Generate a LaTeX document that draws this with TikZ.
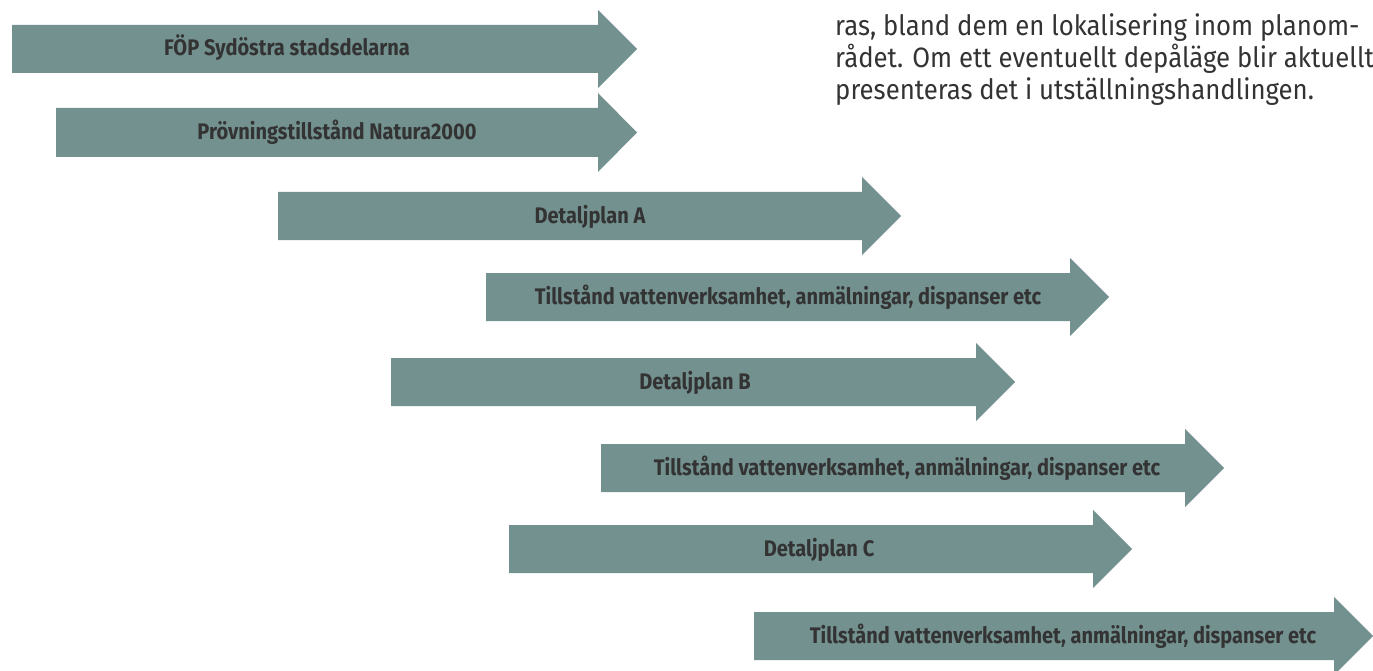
\documentclass[tikz,border=0pt]{standalone}
\usepackage{fontspec}
\setmainfont{Fira Sans}
\newfontfamily\bodyfont[FakeStretch=0.92]{Fira Sans}
\newfontfamily\labfont[FakeStretch=0.89]{Fira Sans Bold}
\definecolor{arrowfill}{RGB}{115,145,143}
\definecolor{txt}{RGB}{51,51,51}
\tikzset{
  arrowbody/.style={fill=arrowfill, draw=none},
  arrowlabel/.style={font=\labfont\fontsize{22.5}{24}\selectfont, text=txt, inner sep=0pt, anchor=base},
  bodytext/.style={font=\bodyfont\fontsize{28}{32}\selectfont, text=txt, inner sep=0pt, anchor=base west, align=left}
}
\begin{document}
\begin{tikzpicture}[x=1pt,y=-1pt]
\useasboundingbox (0,0) rectangle (1373,671);
\foreach \xl/\xr/\yt/\yb/\lx/\nm/\lab in {
  12/598/25/73/287/a1/{FÖP Sydöstra stadsdelarna},
  56/598/108/157/337/a2/{Prövningstillstånd Natura2000},
  278/862/192/240/590/a3/{Detaljplan A},
  486/1070/273/321/788/a4/{Tillstånd vattenverksamhet, anmälningar, dispanser etc},
  391/976/358/406/695/a5/{Detaljplan B},
  601/1185/444/492/907/a6/{Tillstånd vattenverksamhet, anmälningar, dispanser etc},
  509/1093/525/573/819/a7/{Detaljplan C},
  754/1334/612/660/1063/a8/{Tillstånd vattenverksamhet, anmälningar, dispanser etc}}{
  \fill[arrowbody] (\xl,\yt) -- (\xr,\yt) -- (\xr,\yt-15) -- (\xr+39,{(\yt+\yb)/2}) -- (\xr,\yb+15) -- (\xr,\yb) -- (\xl,\yb) -- cycle;
  \node[arrowlabel] (\nm) at (\lx,{(\yt+\yb)/2+7}) {\lab};
}
\node[bodytext] (p1) at (835,36) {ras, bland dem en lokalisering inom planom-};
\node[bodytext] (p2) at (835,68) {rådet. Om ett eventuellt depåläge blir aktuellt};
\node[bodytext] (p3) at (835,100) {presenteras det i utställningshandlingen.};
\end{tikzpicture}
\end{document}
